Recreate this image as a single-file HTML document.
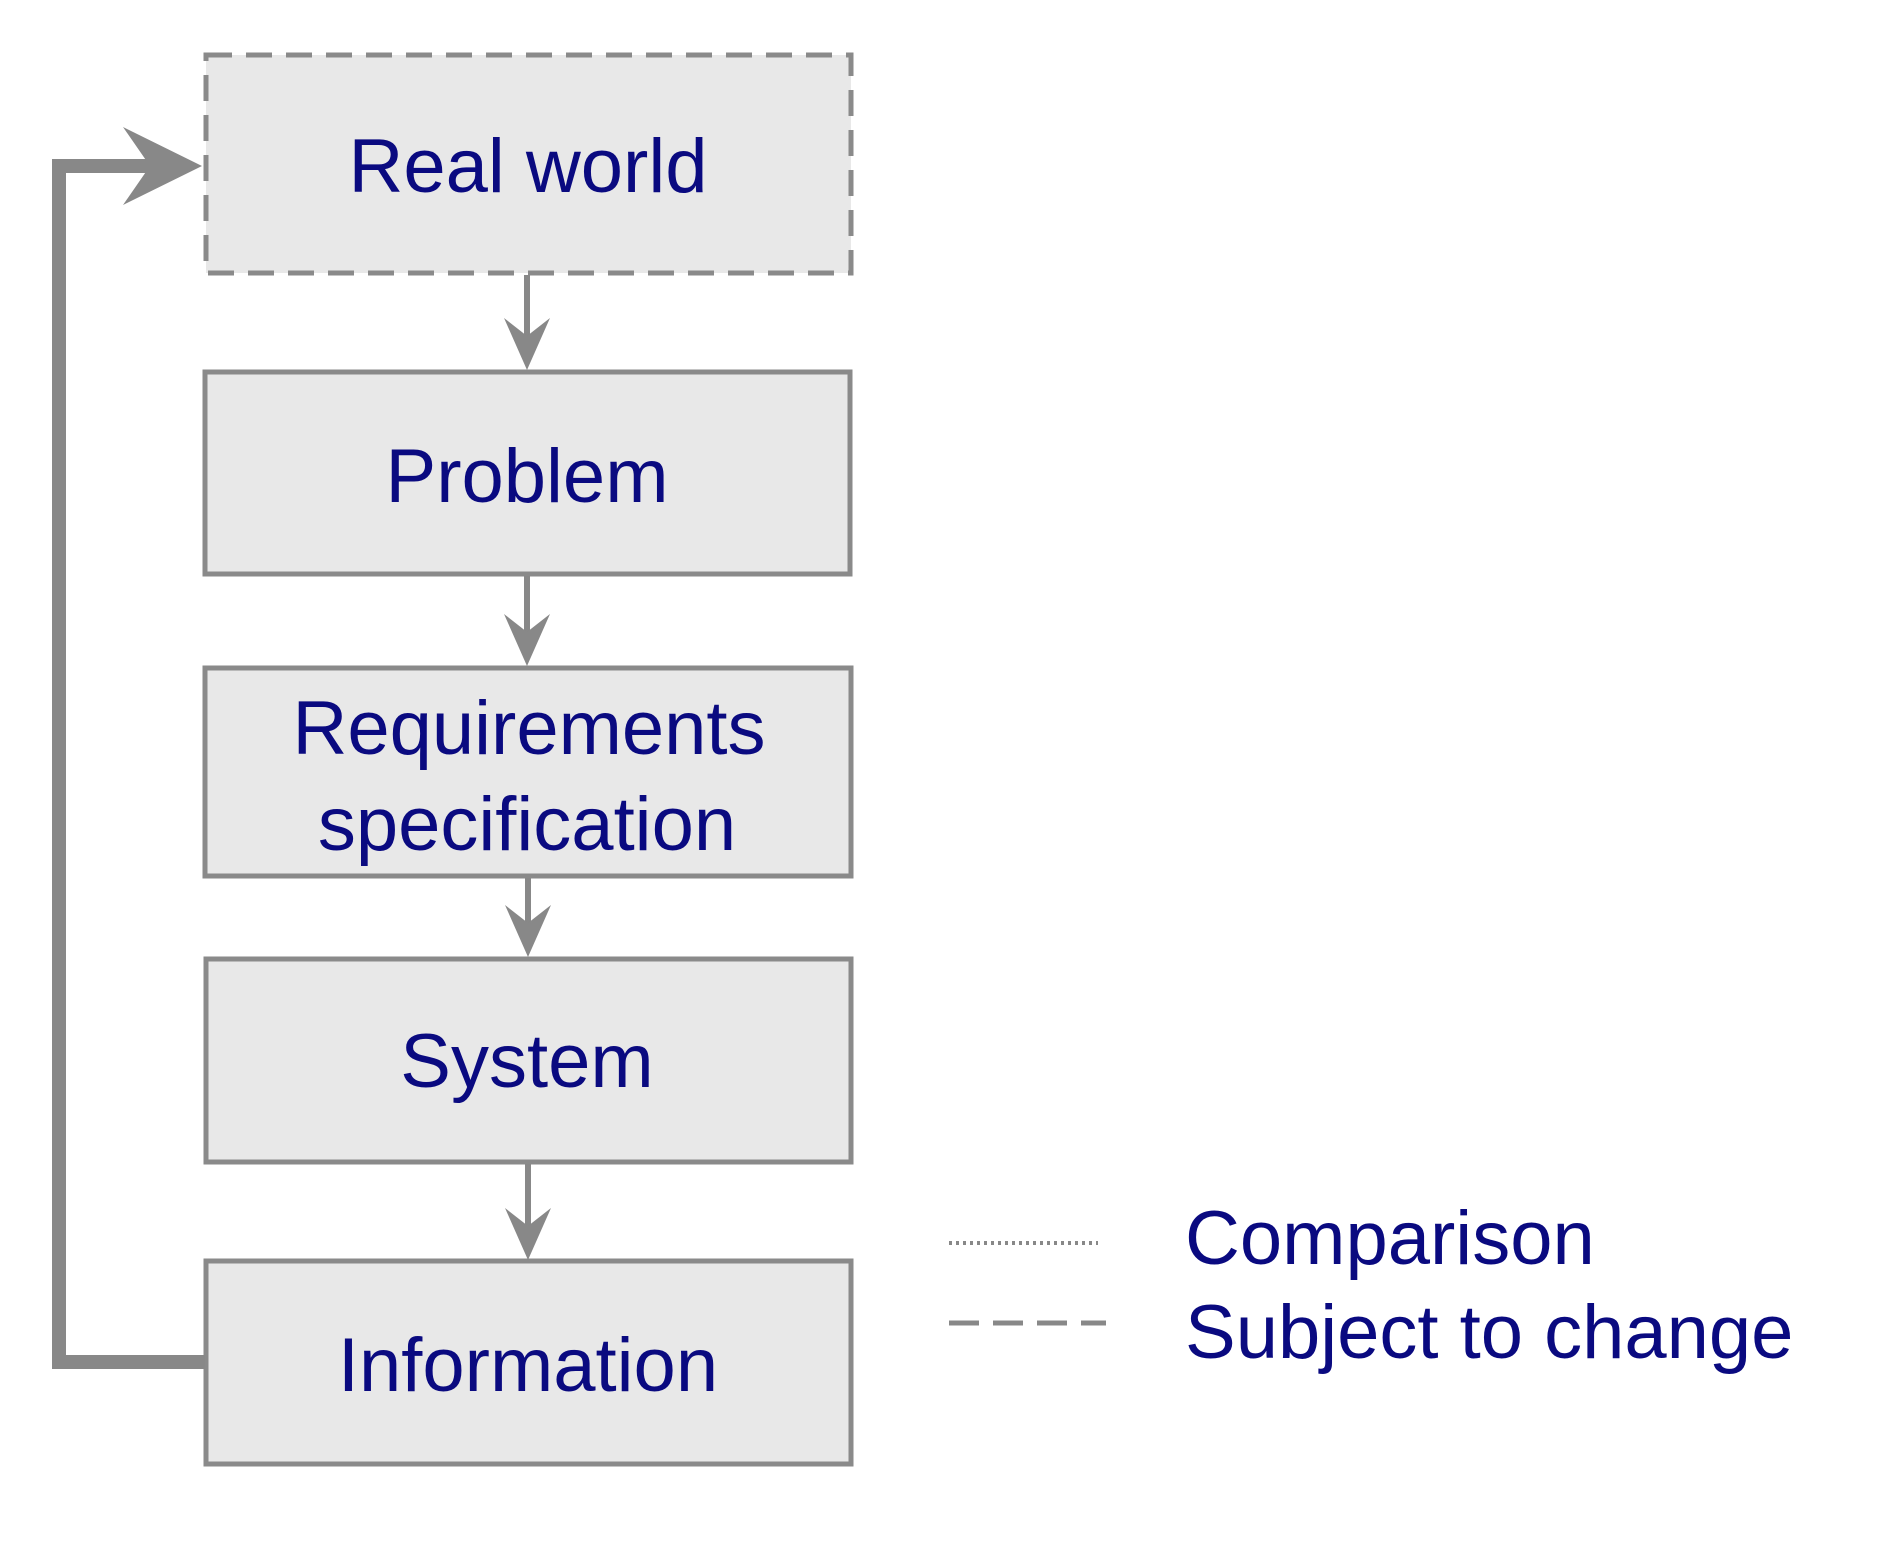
<!DOCTYPE html>
<html><head><meta charset="utf-8"><style>
html,body{margin:0;padding:0;background:#fff;}
svg{display:block;}
text{font-family:"Liberation Sans",Arial,sans-serif;font-size:76px;fill:#0a0a80;}
</style></head><body>
<svg width="1884" height="1548" viewBox="0 0 1884 1548" xmlns="http://www.w3.org/2000/svg">
<g fill="#e8e8e8" stroke="#8a8a8a" stroke-width="5">
<rect x="206" y="55" width="645" height="218" stroke-dasharray="26,14"/>
<rect x="205" y="372" width="645" height="202"/>
<rect x="205" y="668" width="646" height="208"/>
<rect x="206" y="959" width="645" height="203"/>
<rect x="206" y="1261" width="645" height="203"/>
</g>
<g stroke="#888" stroke-width="6" fill="none">
<line x1="527" y1="275" x2="527" y2="350"/>
<line x1="527" y1="576" x2="527" y2="645"/>
<line x1="528" y1="878" x2="528" y2="937"/>
<line x1="528" y1="1164" x2="528" y2="1240"/>
</g>
<g fill="#888">
<polygon points="504,318 527,336 550,318 527,370"/>
<polygon points="504,614 527,632 550,614 527,666"/>
<polygon points="505,905 528,923 551,905 528,957"/>
<polygon points="505,1208 528,1226 551,1208 528,1260"/>
</g>
<polyline points="205,1362 59,1362 59,166 165,166" stroke="#888" stroke-width="14" fill="none"/>
<polygon points="123,127 202,166 123,205 150,166" fill="#888"/>
<text x="528" y="192" text-anchor="middle">Real world</text>
<text x="527" y="502" text-anchor="middle">Problem</text>
<text x="529" y="754" text-anchor="middle">Requirements</text>
<text x="527" y="850" text-anchor="middle">specification</text>
<text x="527" y="1087" text-anchor="middle">System</text>
<text x="528" y="1391" text-anchor="middle">Information</text>
<line x1="949" y1="1243" x2="1098" y2="1243" stroke="#888" stroke-width="4" stroke-dasharray="3,4"/>
<line x1="949" y1="1323" x2="1106" y2="1323" stroke="#888" stroke-width="5" stroke-dasharray="30,14"/>
<text x="1185" y="1264">Comparison</text>
<text x="1185" y="1358">Subject to change</text>
</svg>
</body></html>
